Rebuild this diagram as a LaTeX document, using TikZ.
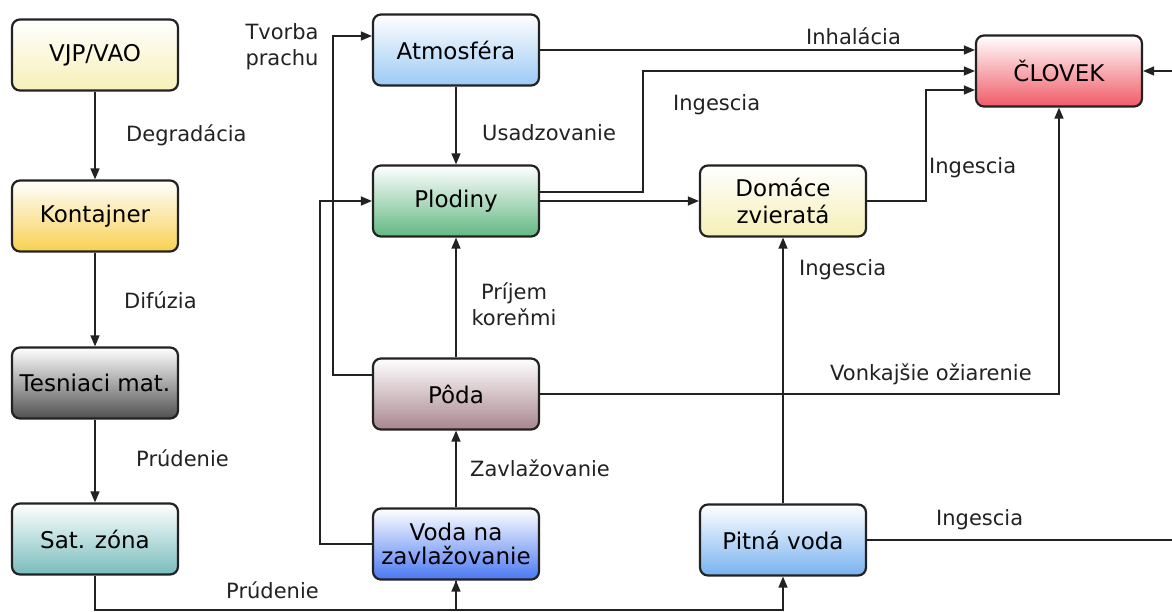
\documentclass[tikz,border=0pt]{standalone}
\usepackage{fontspec}
\setmainfont{DejaVu Sans}
\usetikzlibrary{arrows.meta,calc}
\definecolor{cVJP}{HTML}{F7EFB8}
\definecolor{cKon}{HTML}{F8D050}
\definecolor{cTes}{HTML}{505050}
\definecolor{cSat}{HTML}{78BCBC}
\definecolor{cAtm}{HTML}{9CCAF5}
\definecolor{cPlo}{HTML}{62B882}
\definecolor{cPod}{HTML}{A8868F}
\definecolor{cVod}{HTML}{4A78F2}
\definecolor{cPit}{HTML}{78B2F0}
\definecolor{cDom}{HTML}{F5EFB5}
\definecolor{cClo}{HTML}{F05A66}
\definecolor{ink}{HTML}{222222}
\begin{document}
\begin{tikzpicture}[x=1pt,y=-1pt,
  box/.style={draw=ink, line width=2.2pt, rounded corners=8pt,
    minimum width=166pt, minimum height=71pt, inner sep=0pt, align=center,
    top color=white, font=\fontsize{23}{27}\selectfont},
  lbl/.style={font=\fontsize{21}{26}\selectfont, inner sep=0pt, text=ink},
  con/.style={line width=1.4pt, draw=ink},
  arr/.style={con, -{Triangle[length=11pt,width=9pt]}},
]
\clip (0,0) rectangle (1172,612);
\fill[white] (0,0) rectangle (1172,612);

% boxes
\node[box, bottom color=cVJP] (vjp) at (95,55) {VJP/VAO};
\node[box, bottom color=cKon] (kon) at (95,216) {Kontajner};
\node[box, bottom color=cTes] (tes) at (95,383) {Tesniaci mat.};
\node[box, bottom color=cSat] (sat) at (95,539) {Sat. zóna};
\node[box, bottom color=cAtm] (atm) at (456,50) {Atmosféra};
\node[box, bottom color=cPlo] (plo) at (456,201) {Plodiny};
\node[box, bottom color=cPod] (pod) at (456,394) {Pôda};
\node[box, bottom color=cVod, font=\fontsize{23}{24}\selectfont] (vod) at (456,544) {Voda na\\zavlažovanie};
\node[box, bottom color=cDom] (dom) at (783,201) {Domáce\\zvieratá};
\node[box, bottom color=cPit] (pit) at (783,540) {Pitná voda};
\node[box, bottom color=cClo] (clo) at (1059,71) {ČLOVEK};

\coordinate (bot) at (0,610);

% left chain
\draw[arr] (vjp) -- (kon);
\draw[arr] (kon) -- (tes);
\draw[arr] (tes) -- (sat);
\draw[con] (sat.south) -- (sat.south |- bot) -| (vod.south);
\draw[arr] (vod.south |- bot) -- (vod.south);
\draw[arr] (vod.south |- bot) -| (pit.south);

% middle column
\draw[arr] (atm) -- (plo);
\draw[arr] (pod) -- (plo);
\draw[arr] (vod) -- (pod);
\draw[arr] ([yshift=19pt]pod.west) -- ++(-39,0) |- ([yshift=14pt]atm.west);
\draw[arr] (vod.west) -- ++(-52,0) |- (plo.west);

% to human
\draw[arr] (atm.east) -- (atm.east -| clo.west);
\draw[arr] ([yshift=9pt]plo.east) -- ++(103,0) |- (clo.west);
\draw[arr] (plo.east) -- (dom.west);
\draw[arr] (dom.east) -- ++(59,0) |- ([yshift=-19pt]clo.west);
\draw[arr] (pit) -- (dom);
\draw[arr] (pod.east) -| (clo.south);
\draw[arr] (pit.east) -- ++(360,0) |- (clo.east);

% labels
\node[lbl, anchor=west] (l1) at (126,135) {Degradácia};
\node[lbl, anchor=west] (l2) at (124,300) {Difúzia};
\node[lbl, anchor=west] (l3) at (136,458) {Prúdenie};
\node[lbl, anchor=west] (l4) at (226,590) {Prúdenie};
\node[lbl, align=center] (l5) at (282,47) {Tvorba\\prachu};
\node[lbl, anchor=west] (l6) at (482,133) {Usadzovanie};
\node[lbl, anchor=west] (l7) at (673,105) {Ingescia};
\node[lbl, anchor=west] (l8) at (806,36) {Inhalácia};
\node[lbl, anchor=west] (l9) at (929,168) {Ingescia};
\node[lbl, anchor=west] (l10) at (799,270) {Ingescia};
\node[lbl, align=center] (l11) at (514,304) {Príjem\\koreňmi};
\node[lbl, anchor=west] (l12) at (470,468) {Zavlažovanie};
\node[lbl, anchor=west] (l13) at (830,374) {Vonkajšie ožiarenie};
\node[lbl, anchor=west] (l14) at (936,520) {Ingescia};
\end{tikzpicture}
\end{document}
